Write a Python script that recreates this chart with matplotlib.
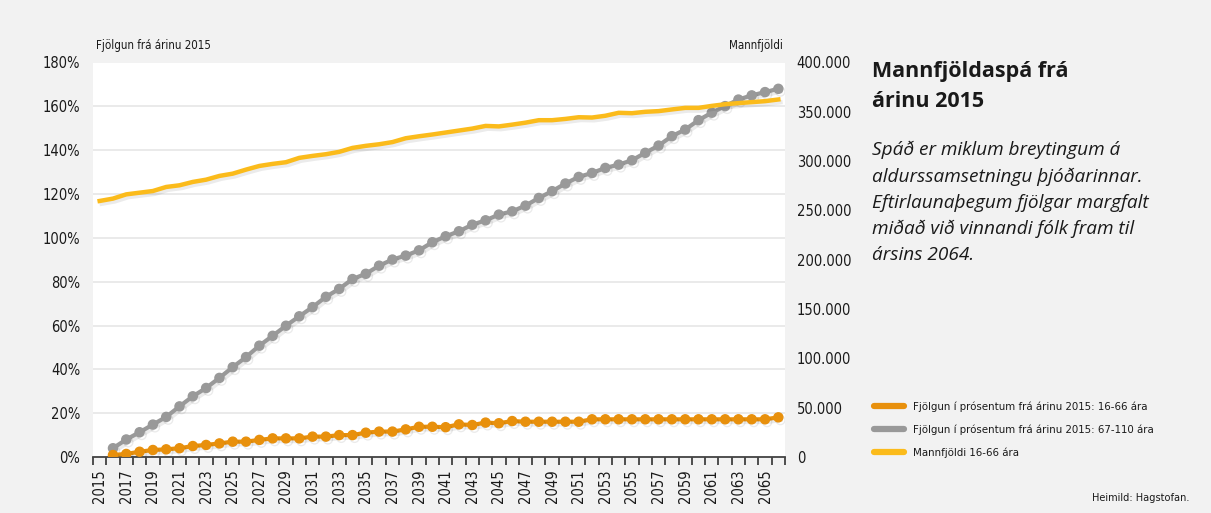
import numpy as np
import matplotlib
matplotlib.use('Agg')
import matplotlib.pyplot as plt
import matplotlib.ticker as mticker
import matplotlib.patheffects as pe
from matplotlib.lines import Line2D

# --- Data ---
years = list(range(2015, 2067))

# Fjölgun í prósentum frá árinu 2015: 16-66 ára (2016-2066)
growth_16_66 = [0.9, 1.4, 2.4, 3.2, 3.5, 4.0, 5.0, 5.5, 6.2, 7.0,
                7.0, 7.8, 8.5, 8.5, 8.5, 9.3, 9.3, 10.0, 10.0, 11.1,
                11.6, 11.6, 12.6, 13.8, 13.8, 13.6, 14.9, 14.6, 15.7, 15.4,
                16.4, 16.1, 16.1, 16.1, 16.1, 16.1, 17.2, 17.2, 17.2, 17.2,
                17.2, 17.2, 17.2, 17.2, 17.2, 17.2, 17.2, 17.2, 17.2, 17.2,
                18.1]

# Fjölgun í prósentum frá árinu 2015: 67-110 ára (2016-2066)
growth_67_110 = [4.0, 8.0, 11.3, 14.8, 18.3, 23.1, 27.7, 31.5, 36.1, 41.0,
                 45.6, 50.8, 55.3, 59.9, 64.2, 68.4, 73.1, 76.7, 81.2, 83.6,
                 87.3, 90.1, 91.9, 94.3, 98.0, 100.7, 103.0, 106.0, 108.0, 110.6,
                 112.1, 114.7, 118.2, 121.3, 124.8, 127.8, 129.6, 131.9, 133.4, 135.4,
                 138.8, 142.1, 146.4, 149.4, 153.7, 157.1, 160.1, 163.1, 165.0, 166.5,
                 168.0]

# Mannfjöldi 16-66 ára, in thousands (2015-2066)
pop_16_66 = [259.6, 262.0, 266.3, 268.0, 269.7, 273.8, 275.5, 278.9, 281.2, 285.0,
             287.3, 291.4, 295.1, 297.2, 298.9, 303.3, 305.3, 307.0, 309.4, 313.4,
             315.5, 317.1, 319.3, 323.2, 325.2, 327.0, 329.0, 331.0, 333.0, 335.7,
             335.2, 337.0, 339.0, 341.5, 341.5, 342.8, 344.5, 344.2, 346.0, 349.0,
             348.6, 350.0, 350.7, 352.4, 354.0, 354.0, 356.0, 357.7, 358.8, 359.8,
             360.8, 362.5]

series_labels = ['Fjölgun í prósentum frá árinu 2015: 16-66 ára',
                 'Fjölgun í prósentum frá árinu 2015: 67-110 ára',
                 'Mannfjöldi 16-66 ára']

ORANGE = '#e8900c'
GREY = '#999999'
YELLOW = '#fbbb1b'
BG = '#f2f2f2'
TXT = '#1a1a1a'

plt.rcParams['font.family'] = ['DejaVu Sans']
plt.rcParams['font.stretch'] = 'condensed'

x_all = np.arange(len(years))
x_growth = x_all[1:]

fig = plt.figure(figsize=(12.11, 5.13), dpi=100, facecolor=BG)
ax = fig.add_axes([93 / 1211, 56 / 513, 692 / 1211, 394.5 / 513])
ax.set_facecolor('white')
ax2 = ax.twinx()

shadow = [pe.SimpleLineShadow(offset=(1.5, -2), shadow_color='#000000', alpha=0.08), pe.Normal()]

ax.plot(x_growth, growth_67_110, color=GREY, linewidth=3, marker='o', markersize=6.5,
        path_effects=shadow, zorder=3)
ax.plot(x_growth, growth_16_66, color=ORANGE, linewidth=3, marker='o', markersize=6.5,
        path_effects=shadow, zorder=4)
ax2.plot(x_all, np.array(pop_16_66) * 1000, color=YELLOW, linewidth=3.2,
         path_effects=shadow, zorder=3)

# left axis
ax.set_ylim(0, 180)
ax.set_yticks(np.arange(0, 181, 20))
ax.yaxis.set_major_formatter(mticker.FuncFormatter(lambda v, p: f'{v:.0f}%'))
ax.grid(axis='y', color='#e6e6e6', linewidth=1.2)
ax.set_axisbelow(True)

# right axis
ax2.set_ylim(0, 400000)
ax2.set_yticks(np.arange(0, 400001, 50000))
ax2.yaxis.set_major_formatter(mticker.FuncFormatter(lambda v, p: f'{v:,.0f}'.replace(',', '.')))

# x axis
ax.set_xlim(-0.5, len(years) - 0.5)
ax.set_xticks(x_all[::2])
ax.set_xticklabels([str(y) for y in years[::2]], rotation=90)
ax.set_xticks(np.arange(-0.5, len(years), 1), minor=True)
ax.tick_params(axis='x', which='major', length=0, pad=9, labelsize=10.5, colors=TXT)
ax.tick_params(axis='x', which='minor', length=6, width=1.2, color='#333333', direction='out')
ax.tick_params(axis='y', length=0, pad=9, labelsize=10.5, colors=TXT)
ax2.tick_params(axis='y', length=0, pad=8.5, labelsize=10.5, colors=TXT)

for a in (ax, ax2):
    for side in ('top', 'left', 'right'):
        a.spines[side].set_visible(False)
ax.spines['bottom'].set_color('#444444')
ax.spines['bottom'].set_linewidth(1.3)
ax2.spines['bottom'].set_visible(False)

# axis headers
fig.text(96 / 1211, 1 - 45 / 513, 'Fjölgun frá árinu 2015', fontsize=8.3, color=TXT,
         ha='left', va='center')
fig.text(783 / 1211, 1 - 45 / 513, 'Mannfjöldi', fontsize=8.3, color=TXT,
         ha='right', va='center')

# right-hand text
fig.text(872 / 1211, 1 - 61 / 513, 'Mannfjöldaspá frá\nárinu 2015', fontsize=15.5,
         fontweight='bold', family=['Open Sans', 'DejaVu Sans'], stretch='normal',
         color=TXT, ha='left', va='top', linespacing=1.55)
fig.text(872 / 1211, 1 - 141 / 513,
         'Spáð er miklum breytingum á\naldurssamsetningu þjóðarinnar.\n'
         'Eftirlaunaþegum fjölgar margfalt\nmiðað við vinnandi fólk fram til\nársins 2064.',
         fontsize=13.7, style='italic', family=['Open Sans', 'DejaVu Sans'], stretch='normal',
         color=TXT, ha='left', va='top', linespacing=1.56)

# legend
handles = [Line2D([], [], color=c, linewidth=4.5, solid_capstyle='round')
           for c in (ORANGE, GREY, YELLOW)]
fig.legend(handles, series_labels, loc='upper left', frameon=False,
           bbox_to_anchor=(864 / 1211, 1 - 391 / 513), fontsize=8.2,
           handlelength=2.6, handletextpad=0.8, labelspacing=1.1, labelcolor=TXT)

fig.text(1189 / 1211, 1 - 498 / 513, 'Heimild: Hagstofan.', fontsize=7.8, color=TXT,
         ha='right', va='center')

fig.savefig('out.png', dpi=100, facecolor=BG)
